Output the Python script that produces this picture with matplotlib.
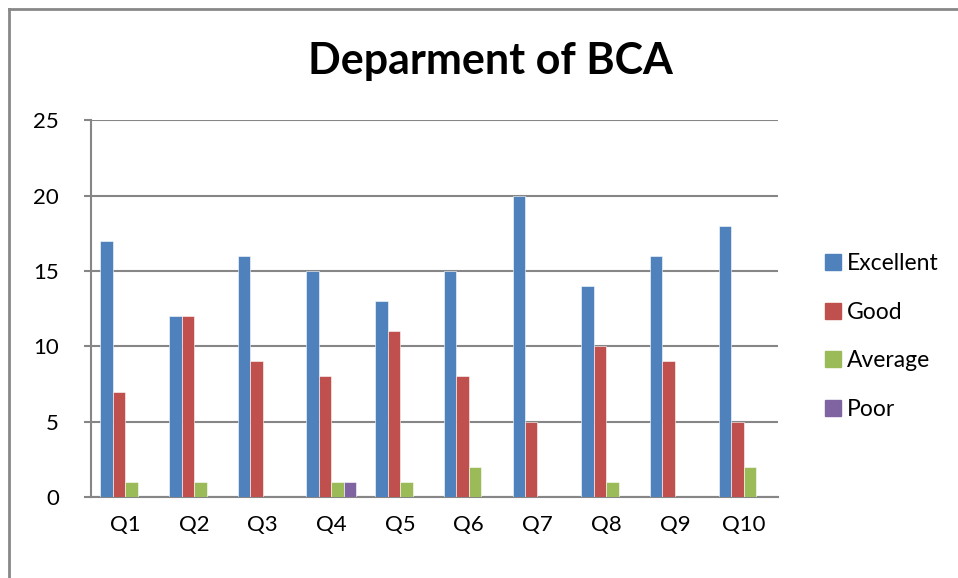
import matplotlib.pyplot as plt
import numpy as np
from matplotlib.lines import Line2D

# data
questions = ["Q1", "Q2", "Q3", "Q4", "Q5", "Q6", "Q7", "Q8", "Q9", "Q10"]
excellent = [17, 12, 16, 15, 13, 15, 20, 14, 16, 18]
good = [7, 12, 9, 8, 11, 8, 5, 10, 9, 5]
average = [1, 1, 0, 1, 1, 2, 0, 1, 0, 2]
poor = [0, 0, 0, 1, 0, 0, 0, 0, 0, 0]

series = [("Excellent", excellent, "#4F81BD"),
          ("Good", good, "#C0504D"),
          ("Average", average, "#9BBB59"),
          ("Poor", poor, "#8064A2")]

plt.rcParams['font.family'] = ['Lato', 'DejaVu Sans']

fig = plt.figure(figsize=(9.58, 5.78), dpi=100)
ax = fig.add_axes([0.095, 0.140, 0.717, 0.652])

# bar layout like Excel: gap width 150%
w = 1 / 5.5
x = np.arange(len(questions)) + 0.5
for i, (name, vals, col) in enumerate(series):
    ax.bar(x - 1.5 * w + i * w, vals, width=w, color=col,
           edgecolor="white", linewidth=0.4, label=name, zorder=3)

ax.set_xlim(0, len(questions))
ax.set_ylim(0, 25)
ax.set_yticks(np.arange(0, 26, 5))
ax.set_xticks(x)
ax.set_xticklabels(questions)

ax.grid(axis='y', color="#868686", linewidth=1.5, zorder=0)
for s in ['top', 'right']:
    ax.spines[s].set_visible(False)
for s in ['left', 'bottom']:
    ax.spines[s].set_color("#868686")
    ax.spines[s].set_linewidth(1.5)
ax.tick_params(axis='y', length=5, width=1.5, color="#868686", labelsize=16, pad=18)
ax.tick_params(axis='x', length=0, labelsize=16, pad=13)

fig.text(0.512, 0.895, "Deparment of BCA", ha='center', va='center',
         fontsize=31, fontweight='bold')

handles = [Line2D([], [], marker='s', linestyle='none', markersize=11,
                  markerfacecolor=c, markeredgecolor=c) for _, _, c in series]
fig.legend(handles, [s[0] for s in series], loc='center left',
           bbox_to_anchor=(0.848, 0.418), frameon=False, fontsize=16.5,
           handletextpad=0.1, labelspacing=1.2, handlelength=1.0,
           borderaxespad=0)

# outer chart border (cropped at right and bottom)
fig.add_artist(Line2D([0.0097, 0.0097], [0, 0.985], color="#888888", linewidth=2,
                      transform=fig.transFigure))
fig.add_artist(Line2D([0.0097, 1.0], [0.985, 0.985], color="#888888", linewidth=2,
                      transform=fig.transFigure))

fig.savefig("out.png", dpi=100)
